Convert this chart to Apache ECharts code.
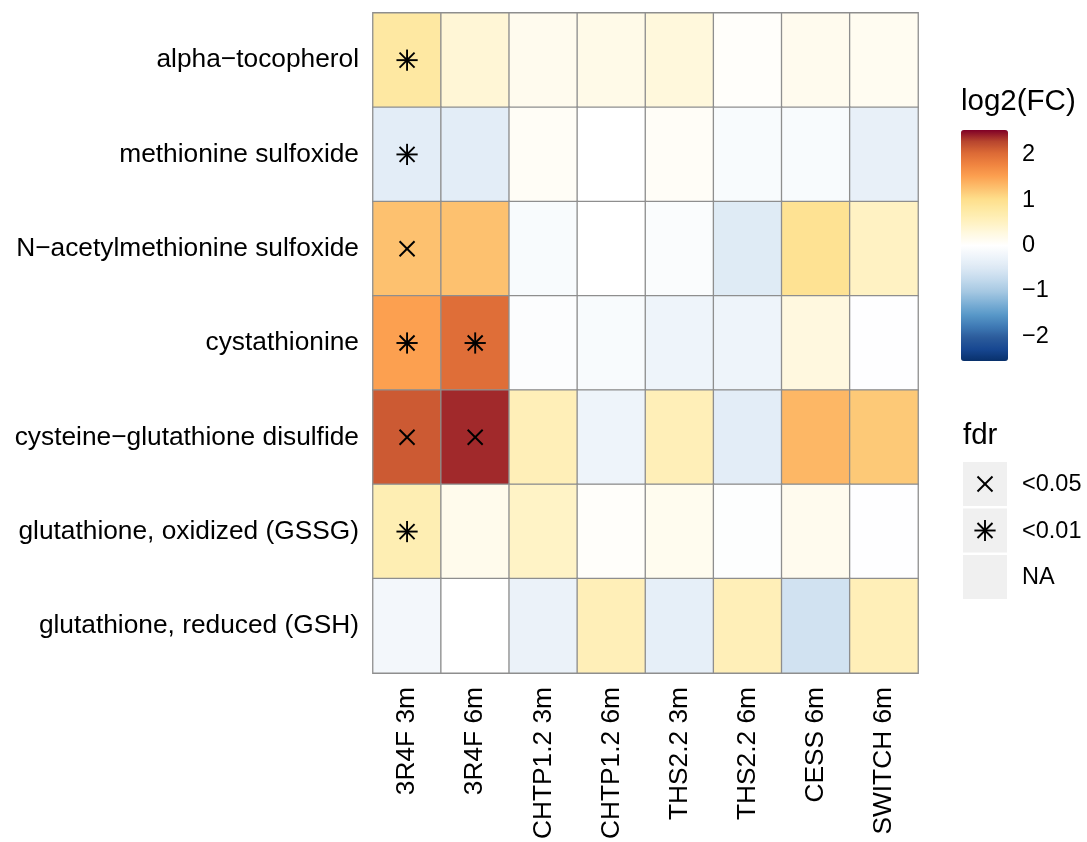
<!DOCTYPE html>
<html>
<head>
<meta charset="utf-8">
<script src="https://cdn.jsdelivr.net/npm/echarts@6/dist/echarts.min.js"></script>
<style>html,body{margin:0;padding:0;background:#fff}#c{width:1087px;height:842px}</style>
</head>
<body>
<div id="c"></div>
<script>
// ---- data ----
const columns = ['3R4F 3m','3R4F 6m','CHTP1.2 3m','CHTP1.2 6m','THS2.2 3m','THS2.2 6m','CESS 6m','SWITCH 6m'];
const rows = ['alpha\u2212tocopherol','methionine sulfoxide','N\u2212acetylmethionine sulfoxide','cystathionine',
  'cysteine\u2212glutathione disulfide','glutathione, oxidized (GSSG)','glutathione, reduced (GSH)'];
const alphaTocopherol   = [0.80, 0.35, 0.15, 0.20, 0.30, 0.04, 0.15, 0.12];
const methSulfoxide     = [-0.40, -0.40, 0.08, 0.00, 0.07, -0.10, -0.10, -0.33];
const nAcetylMethSulf   = [1.27, 1.27, -0.10, 0.00, -0.08, -0.45, 0.95, 0.50];
const cystathionine     = [1.53, 2.00, -0.05, -0.10, -0.25, -0.25, 0.28, -0.02];
const cysGluDisulfide   = [2.15, 2.40, 0.60, -0.25, 0.60, -0.40, 1.35, 1.20];
const gssg              = [0.65, 0.17, 0.48, 0.04, 0.14, -0.03, 0.15, -0.02];
const gsh               = [-0.18, 0.00, -0.30, 0.60, -0.36, 0.60, -0.61, 0.60];
const values = [alphaTocopherol, methSulfoxide, nAcetylMethSulf, cystathionine, cysGluDisulfide, gssg, gsh];
// fdr codes: 'x' = <0.05, '*' = <0.01, '' = NA
const fdrAlpha  = ['*','','','','','','',''];
const fdrMeth   = ['*','','','','','','',''];
const fdrNAc    = ['x','','','','','','',''];
const fdrCysta  = ['*','*','','','','','',''];
const fdrCysGlu = ['x','x','','','','','',''];
const fdrGSSG   = ['*','','','','','','',''];
const fdrGSH    = ['','','','','','','',''];
const fdr = [fdrAlpha, fdrMeth, fdrNAc, fdrCysta, fdrCysGlu, fdrGSSG, fdrGSH];
const colorTicks = [-2, -1, 0, 1, 2];
const fdrLegend = [['x','<0.05'],['*','<0.01'],['','NA']];
const limit = 2.55;
const palette = ['#08306b','#174791','#2b5b9b','#3f7ab5','#5898c8','#7eb0d6','#a5c8e2','#c2d9ec','#dbe8f4','#eef4fa',
  '#ffffff','#fff9e2','#fff2c2','#feeaa6','#fedf8c','#fdc06e','#fca050','#f08440','#dc6a36','#b8462e','#800026'];

// ---- build ----
const heat = [], marks = [];
rows.forEach((r, i) => columns.forEach((c, j) => {
  heat.push([j, i, values[i][j]]);
  if (fdr[i][j]) marks.push([j, i, fdr[i][j]]);
}));
const FONT = 'Liberation Sans, Arial, Helvetica, sans-serif';

function markerLines(cx, cy, type) {
  const s = 7.5, lines = [];
  lines.push([cx - s, cy - s, cx + s, cy + s], [cx - s, cy + s, cx + s, cy - s]);
  if (type === '*') {
    const p = s * 1.414;
    lines.push([cx - p, cy, cx + p, cy], [cx, cy - p, cx, cy + p]);
  }
  return lines.map(l => ({type: 'line', shape: {x1: l[0], y1: l[1], x2: l[2], y2: l[3]},
    style: {stroke: '#000', lineWidth: 1.9}}));
}

const graphics = [];
graphics.push({type: 'text', left: 961, top: 87, style: {text: 'log2(FC)', font: '29.5px ' + FONT, fill: '#000'}});
graphics.push({type: 'text', left: 963, top: 421, style: {text: 'fdr', font: '29.5px ' + FONT, fill: '#000'}});
fdrLegend.forEach((f, k) => {
  const y0 = 462 + k * 46.5;
  graphics.push({type: 'rect', shape: {x: 963, y: y0, width: 44, height: 44}, style: {fill: '#f0f0f0'}});
  if (f[0]) {
    markerLines(985, y0 + 22, f[0]).forEach(g => graphics.push(g));
  }
  graphics.push({type: 'text', x: 1022, y: y0 + 23, style: {text: f[1], font: '23.5px ' + FONT, fill: '#000', verticalAlign: 'middle'}});
});

const option = {
  backgroundColor: '#fff',
  animation: false,
  grid: [
    {left: 373, top: 13, width: 545, height: 660},
    {left: 961, top: 130, width: 47, height: 231}
  ],
  xAxis: [
    {type: 'category', data: columns, gridIndex: 0, position: 'bottom',
     axisLine: {show: false}, axisTick: {show: false}, splitLine: {show: false},
     axisLabel: {rotate: 90, margin: 14, color: '#000', fontSize: 26.3, fontFamily: FONT}},
    {type: 'value', gridIndex: 1, show: false, min: 0, max: 1}
  ],
  yAxis: [
    {type: 'category', data: rows, gridIndex: 0, inverse: true,
     axisLine: {show: false}, axisTick: {show: false}, splitLine: {show: false},
     axisLabel: {margin: 14, color: '#000', fontSize: 26.3, fontFamily: FONT, padding: [5, 0, 0, 0]}},
    {type: 'value', gridIndex: 1, min: -limit, max: limit, position: 'right',
     axisLine: {show: false}, splitLine: {show: false},
     axisTick: {show: true, inside: true, length: 9, lineStyle: {color: '#fff', width: 1.2}, customValues: colorTicks},
     axisLabel: {show: true, margin: 14, color: '#000', fontSize: 23.5, fontFamily: FONT, customValues: colorTicks,
       padding: [3, 0, 0, 0],
       formatter: v => (v < 0 ? '\u2212' + Math.abs(v) : String(v))}},
    {type: 'value', gridIndex: 1, min: -limit, max: limit, position: 'left',
     axisLine: {show: false}, splitLine: {show: false},
     axisTick: {show: true, inside: true, length: 9, lineStyle: {color: '#fff', width: 1.2}, customValues: colorTicks},
     axisLabel: {show: false}}
  ],
  visualMap: {
    type: 'continuous', min: -limit, max: limit, seriesIndex: 0, calculable: false,
    orient: 'vertical', left: 961, top: 130, itemWidth: 47, itemHeight: 231, padding: 0,
    text: null, showLabel: false, z: 1,
    inRange: {color: palette}
  },
  series: [
    {type: 'heatmap', data: heat, xAxisIndex: 0, yAxisIndex: 0,
     itemStyle: {borderColor: '#8e8e8e', borderWidth: 1.3}, emphasis: {disabled: true}},
    {type: 'custom', data: marks, xAxisIndex: 0, yAxisIndex: 0, z: 5,
     renderItem: (params, api) => {
       const p = api.coord([api.value(0), api.value(1)]);
       const t = marks[params.dataIndex][2];
       return {type: 'group', children: markerLines(p[0], p[1], t)};
     }},
    {type: 'line', data: [], xAxisIndex: 1, yAxisIndex: 1}
  ],
  graphic: graphics
};
const chart = echarts.init(document.getElementById('c'), null, {renderer: 'canvas'});
chart.setOption(option);
</script>
</body>
</html>
